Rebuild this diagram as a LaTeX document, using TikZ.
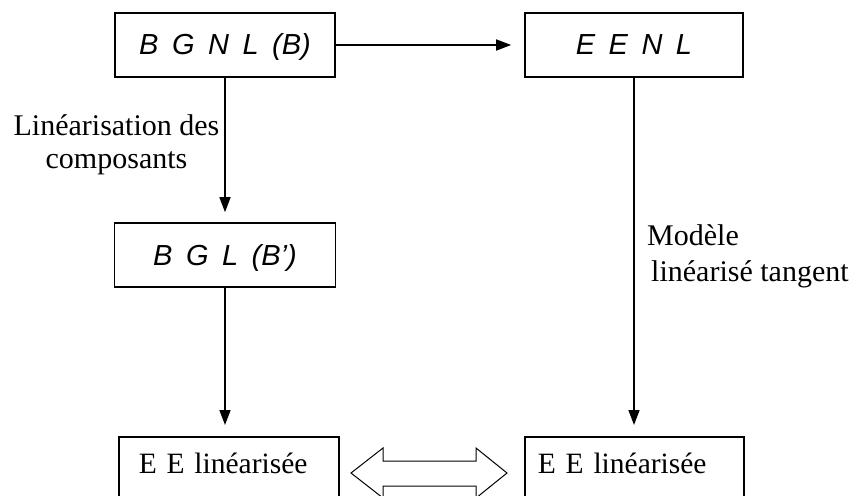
\documentclass[tikz,border=0pt]{standalone}
\usepackage{fontspec}
\setmainfont{Liberation Serif}
\newfontfamily\arialfont{Liberation Sans}
\usetikzlibrary{arrows.meta}

\tikzset{
  bloc/.style={draw, line width=1.6pt, inner sep=0pt, minimum height=64pt,
    text height=20pt, text depth=0pt,
    font={\arialfont\itshape\fontsize{29}{33}\selectfont\spaceskip=13.5pt\relax}},
  eebox/.style={draw, line width=1.6pt, anchor=north west, inner ysep=12pt,
    text height=25pt, text depth=22pt, align=left,
    font=\fontsize{29.5}{34}\selectfont},
  fleche/.style={->, line width=1.5pt, shorten >=11pt},
}

\begin{document}
\begin{tikzpicture}[x=1pt, y=-1pt, >={Triangle[length=15pt, width=11pt]}]
  \useasboundingbox (0,0) rectangle (853,495);
  \clip (0,0) rectangle (853,495);

  % Boxes
  \node[bloc, minimum width=220pt] (bgnl) at (225,45) {B G N L (B)};
  \node[bloc, minimum width=218pt] (eenl) at (634,45) {E E N L};
  \node[bloc, minimum width=221pt] (bgl) at (225,255) {B G L (B’)};
  \node[eebox, text width=180pt, inner xsep=20pt] (eelin1) at (118,436) {E E linéarisée};
  \node[eebox, text width=193pt, inner xsep=13pt] (eelin2) at (524,436) {E E linéarisée};

  % Arrows
  \draw[fleche, shorten >=13pt] (bgnl) -- (eenl);
  \draw[fleche, shorten >=10pt] (bgnl.south) -- (bgnl.south |- bgl.north);
  \draw[fleche] (bgl.south) -- (bgl.south |- eelin1.north);
  \draw[fleche] (eenl.south) -- (eenl.south |- eelin2.north);

  % Labels
  \node[inner sep=0pt, align=center, font=\fontsize{30}{33}\selectfont] (linc) at (116.5,144.5)
    {Linéarisation des\\composants};
  \node[inner sep=0pt, anchor=north west, align=left, font=\fontsize{30}{36}\selectfont] (mlt) at (647,224.5)
    {Modèle\\\hspace*{4pt}linéarisé tangent};

  % Equivalence (hollow double arrow)
  \draw[line width=1pt] (351,473) -- (383,448) -- (383,461) -- (476,461) -- (476,448)
    -- (507,473) -- (476,498) -- (476,486) -- (383,486) -- (383,498) -- cycle;
\end{tikzpicture}
\end{document}
